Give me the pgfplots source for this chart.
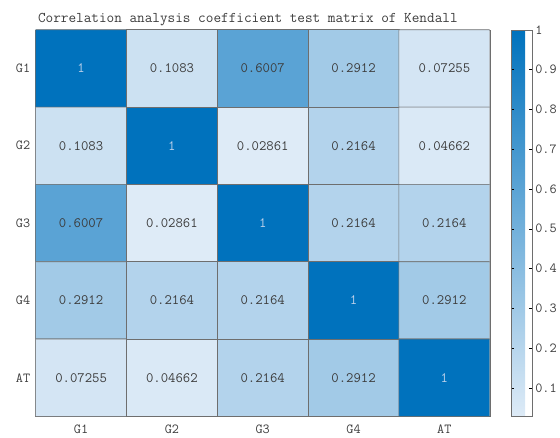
\documentclass[border=0pt]{standalone}
\usepackage{pgfplots}
\pgfplotsset{compat=1.18}
\usepackage{pgfplotstable}
\usepackage{fontspec}
\setmainfont{Latin Modern Mono}
\definecolor{txt}{RGB}{60,60,60}
\definecolor{onetxt}{RGB}{190,210,235}
\definecolor{edge}{RGB}{110,110,110}
\pgfplotstableread{
x y v
0 0 1
1 0 0.1083
2 0 0.6007
3 0 0.2912
4 0 0.07255
0 1 0.1083
1 1 1
2 1 0.02861
3 1 0.2164
4 1 0.04662
0 2 0.6007
1 2 0.02861
2 2 1
3 2 0.2164
4 2 0.2164
0 3 0.2912
1 3 0.2164
2 3 0.2164
3 3 1
4 3 0.2912
0 4 0.07255
1 4 0.04662
2 4 0.2164
3 4 0.2912
4 4 1
}\datatable
\pgfplotstableread{
x y lab
1 0 0.1083
2 0 0.6007
3 0 0.2912
4 0 0.07255
0 1 0.1083
2 1 0.02861
3 1 0.2164
4 1 0.04662
0 2 0.6007
1 2 0.02861
3 2 0.2164
4 2 0.2164
0 3 0.2912
1 3 0.2164
2 3 0.2164
4 3 0.2912
0 4 0.07255
1 4 0.04662
2 4 0.2164
3 4 0.2912
}\offtable
\pgfplotstableread{
x y lab
0 0 1
1 1 1
2 2 1
3 3 1
4 4 1
}\diagtable
\begin{document}
\begin{tikzpicture}
\begin{axis}[
  name=main,
  scale only axis,
  width=458bp, height=390bp,
  xmin=-0.5, xmax=4.5, ymin=-0.5, ymax=4.5,
  y dir=reverse,
  xtick={0,1,2,3,4}, ytick={0,1,2,3,4},
  xticklabels={G1,G2,G3,G4,AT},
  yticklabels={G1,G2,G3,G4,AT},
  tick style={draw=none},
  axis line style={draw=edge},
  ticklabel style={font=\fontsize{14}{16}\selectfont, text=txt},
  xticklabel style={yshift=-5bp},
  yticklabel style={xshift=-2bp},
  title={Correlation analysis coefficient test matrix of Kendall},
  title style={font=\fontsize{15}{17}\selectfont, text=txt, yshift=-6bp, xshift=-15bp},
  colormap={kb}{rgb255=(222,235,247) rgb255=(0,114,189)},
  point meta min=0.02861, point meta max=1,
  colorbar right,
  colorbar style={
    at={(parent axis.north east)}, anchor=north west, xshift=13bp,
    width=21bp,
    ytick={0.1,0.2,0.3,0.4,0.5,0.6,0.7,0.8,0.9,1},
    yticklabels={0.1,0.2,0.3,0.4,0.5,0.6,0.7,0.8,0.9,1},
    yticklabel pos=right,
    ytick style={draw=black},
    major tick length=3bp,
    tick align=inside,
    axis line style={draw=edge},
    yticklabel style={font=\fontsize{14}{16}\selectfont, text=txt, xshift=0bp},
  },
]
\addplot[matrix plot*, mesh/cols=5, point meta=explicit, draw=edge, line width=0.6pt] table[meta=v] {\datatable};
\addplot[only marks, mark=none, point meta=explicit symbolic, nodes near coords,
  nodes near coords align=center,
  nodes near coords style={font=\fontsize{14.5}{16}\selectfont, text=txt, anchor=center}]
  table[meta=lab] {\offtable};
\addplot[only marks, mark=none, point meta=explicit symbolic, nodes near coords,
  nodes near coords align=center,
  nodes near coords style={font=\fontsize{14.5}{16}\selectfont, text=onetxt, anchor=center}]
  table[meta=lab] {\diagtable};
\end{axis}
\path ([xshift=-36bp,yshift=-21bp]main.south west) rectangle ([xshift=60bp,yshift=30bp]main.north east);
\end{tikzpicture}
\end{document}
